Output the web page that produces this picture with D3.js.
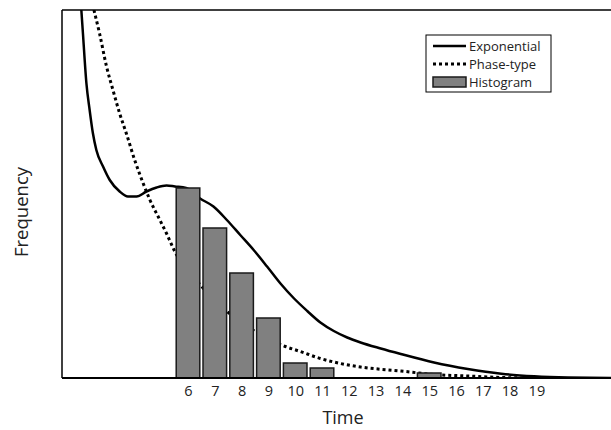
<!DOCTYPE html>
<html>
<head>
<meta charset="utf-8">
<script src="https://cdn.jsdelivr.net/npm/d3@7/dist/d3.min.js"></script>
<style>
  html, body { margin: 0; padding: 0; background: #fff; }
  svg { display: block; }
  text { font-family: "Open Sans", "Noto Sans", sans-serif; fill: #222; }
</style>
</head>
<body>
<script>
// ---------- data ----------
const tickValues = [6, 7, 8, 9, 10, 11, 12, 13, 14, 15, 16, 17, 18, 19];
const histBins   = [6, 7, 8, 9, 10, 11, 15];
const histCounts = [38, 30, 21, 12, 3, 2, 1];

const expX = [2.02, 2.08, 2.21, 2.33, 2.45, 2.58, 2.83, 3.08, 3.45, 3.76, 4.08, 4.45, 4.83, 5.20, 5.51, 5.93,
              6.45, 6.95, 7.45, 7.95, 8.45, 8.95, 9.45, 9.94, 10.45, 10.94, 11.44, 11.94, 12.44, 13.19, 13.94,
              15.18, 16.44, 17.69, 18.92, 20.18, 21.8, 23];
const expY = [73.6, 68.9, 58.9, 53.6, 49.0, 45.6, 42.3, 39.6, 37.3, 36.3, 36.3, 37.3, 38.1, 38.5, 38.3, 38.0,
              35.9, 34.3, 31.6, 28.6, 25.6, 22.3, 18.9, 16.0, 13.4, 11.1, 9.4, 8.1, 7.1, 5.9, 4.8,
              3.1, 1.8, 0.85, 0.35, 0.1, 0.0, 0.0];

const phX = [2.49, 2.70, 2.96, 3.20, 3.45, 3.70, 4.01, 4.33, 4.58, 4.95, 5.20, 5.48, 6.51, 7.55, 8.57,
             9.63, 10.19, 10.94, 11.69, 12.44, 13.94, 15.18, 16.44, 17.69, 18.69];
const phY = [73.6, 68.9, 62.3, 57.6, 52.9, 48.9, 43.6, 38.9, 35.6, 31.6, 28.9, 25.6, 18.3, 12.9, 9.1,
             6.3, 5.3, 3.9, 2.9, 2.2, 1.4, 0.7, 0.4, 0.1, 0.0];

const legendLabels = ["Exponential", "Phase-type", "Histogram"];

// ---------- layout ----------
const W = 611, H = 430;
const mLeft = 62, mTop = 10, mBottom = 378;
const pxPerUnit = 26.8;

const svg = d3.select("body").append("svg").attr("width", W).attr("height", H);

const x0 = 6 - (188 - mLeft) / pxPerUnit;
const x1 = 24;
const x = d3.scaleLinear().domain([x0, x1]).range([mLeft, mLeft + (x1 - x0) * pxPerUnit]);
const y = d3.scaleLinear().domain([0, 73.6]).range([mBottom, mTop]);

svg.append("defs").append("clipPath").attr("id", "plotclip")
  .append("rect").attr("x", mLeft).attr("y", mTop).attr("width", W - mLeft).attr("height", mBottom - mTop);

const plot = svg.append("g").attr("clip-path", "url(#plotclip)");

const line = d3.line().x(d => x(d[0])).y(d => y(d[1])).curve(d3.curveMonotoneX);

// phase-type (dotted)
plot.append("path")
  .datum(phX.map((v, i) => [v, phY[i]]))
  .attr("d", line)
  .attr("fill", "none").attr("stroke", "#000").attr("stroke-width", 3)
  .attr("stroke-dasharray", "3,3");

// exponential (solid)
plot.append("path")
  .datum(expX.map((v, i) => [v, expY[i]]))
  .attr("d", line)
  .attr("fill", "none").attr("stroke", "#000").attr("stroke-width", 2.5);

// histogram bars (drawn on top)
const halfW = 0.44;
plot.selectAll("rect.bar").data(histBins).enter().append("rect")
  .attr("class", "bar")
  .attr("x", d => x(d - halfW))
  .attr("width", d => x(d + halfW) - x(d - halfW))
  .attr("y", (d, i) => y(histCounts[i]))
  .attr("height", (d, i) => y(0) - y(histCounts[i]))
  .attr("fill", "#808080").attr("stroke", "#1a1a1a").attr("stroke-width", 1.5);

// frame: top, left
svg.append("line").attr("x1", mLeft).attr("x2", W).attr("y1", mTop).attr("y2", mTop)
  .attr("stroke", "#000").attr("stroke-width", 1.5);
svg.append("line").attr("x1", mLeft).attr("x2", mLeft).attr("y1", mTop).attr("y2", mBottom)
  .attr("stroke", "#000").attr("stroke-width", 1.5);

// x axis (labels only)
const xAxis = d3.axisBottom(x).tickValues(tickValues).tickSize(0).tickPadding(8).tickFormat(d3.format("d"));
const ax = svg.append("g").attr("transform", `translate(0,${mBottom})`).call(xAxis);
ax.select(".domain").attr("stroke", "#000").attr("stroke-width", 2)
  .attr("d", `M${mLeft},0H${W}`);
ax.selectAll("text").style("font-family", '"Open Sans", sans-serif').style("font-size", "14.5px").attr("fill", "#222");

// axis titles
svg.append("text").attr("x", 343).attr("y", 424).attr("text-anchor", "middle")
  .style("font-size", "18px").text("Time");
svg.append("text").attr("transform", "translate(22,212) rotate(-90)").attr("text-anchor", "middle")
  .attr("dy", "0.35em").style("font-size", "18.5px").text("Frequency");

// legend
const lg = svg.append("g");
lg.append("rect").attr("x", 426).attr("y", 35).attr("width", 125).attr("height", 57)
  .attr("fill", "#fff").attr("stroke", "#000").attr("stroke-width", 1);
const rowY = [46, 64, 82];
lg.append("line").attr("x1", 433).attr("x2", 466).attr("y1", rowY[0]).attr("y2", rowY[0])
  .attr("stroke", "#000").attr("stroke-width", 2.5);
lg.append("line").attr("x1", 433).attr("x2", 466).attr("y1", rowY[1]).attr("y2", rowY[1])
  .attr("stroke", "#000").attr("stroke-width", 3).attr("stroke-dasharray", "3,3");
lg.append("rect").attr("x", 433).attr("y", rowY[2] - 5).attr("width", 33).attr("height", 10)
  .attr("fill", "#808080").attr("stroke", "#1a1a1a").attr("stroke-width", 1.5);
lg.selectAll("text.lt").data(legendLabels).enter().append("text")
  .attr("class", "lt")
  .attr("x", 469).attr("y", (d, i) => rowY[i]).attr("dy", "0.35em")
  .style("font-size", "13px").text(d => d);
</script>
</body>
</html>
